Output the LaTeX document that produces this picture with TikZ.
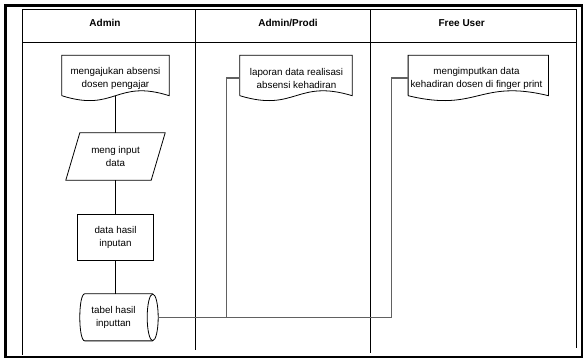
\documentclass[tikz,border=0pt]{standalone}
\usepackage{fontspec}
\setmainfont{Liberation Sans}
\usetikzlibrary{calc}

% outline of a flowchart "document" symbol around an empty box node:
% #1 = node name, #2 = half of its width
\newcommand{\docoutline}[2]{%
  \draw[shapeline] (#1.south west) -- (#1.north west) -- (#1.north east) -- (#1.south east)
    .. controls +(-#2,-17) and +(#2,17) .. (#1.south west);}

\begin{document}
\begin{tikzpicture}[x=1pt,y=-1pt,
  every node/.style={font=\fontsize{9.8}{12.5}\selectfont, align=center, inner sep=0pt},
  box/.style={rectangle, inner sep=0pt},
  shapeline/.style={draw=black, line width=0.8pt},
  flow/.style={draw=black, line width=0.8pt},
  link/.style={draw=black!62, line width=1.3pt},
  lane/.style={draw=black, line width=0.9pt},
  hdr/.style={font=\fontsize{10}{12}\selectfont\bfseries, anchor=base}]

\useasboundingbox (0,0) rectangle (587,358);

% outer frame
\draw[line width=2.5pt] (5.5,5.5) rectangle (582,356.8);

% swimlanes
\draw[lane] (22.7,355) -- (22.7,9.3) -- (576,9.3) -- (576,348);
\draw[lane] (22.7,42.3) -- (576,42.3);
\draw[lane] (195,9.3) -- (195,350);
\draw[lane] (370,9.3) -- (370,352.7);

\node[hdr] (h1) at (105,26.6) {Admin};
\node[hdr] (h2) at (288,26.6) {Admin/Prodi};
\node[hdr] (h3) at (461.7,26.6) {Free User};

% documents
\node[box, minimum width=107pt, minimum height=40pt] (d1) at (115.5,75.5) {};
\node (d1t) at (115.5,78.3) {mengajukan absensi\\dosen pengajar};
\docoutline{d1}{53.5}

\node[box, minimum width=112pt, minimum height=40pt] (d2) at (296,75.5) {};
\node (d2t) at (296.5,78.4) {laporan data realisasi\\absensi kehadiran};
\docoutline{d2}{56}

\node[box, minimum width=140pt, minimum height=40pt] (d3) at (478.3,75.5) {};
\node (d3t) at (476.5,78.3) {mengimputkan data\\kehadiran dosen di finger print};
\docoutline{d3}{70}

% input / output
\node[box, minimum width=99pt, minimum height=47pt] (p) at (115.5,156.5) {meng input\\data};
\draw[shapeline] ([xshift=14pt]p.north west) -- (p.north east)
  -- ([xshift=-14pt]p.south east) -- (p.south west) -- cycle;

% process
\node[box, shapeline, minimum width=76pt, minimum height=46.7pt] (r) at (115.5,237.3) {data hasil\\inputan};

% stored data (direct access storage)
\node[box, minimum width=67pt, minimum height=46.7pt] (c) at (113.5,317.35) {tabel hasil\\inputtan};
\draw[shapeline] ([xshift=5pt]c.north west) -- ([xshift=5.5pt]c.north east)
  ([xshift=5.5pt]c.south east) -- ([xshift=5pt]c.south west)
  .. controls +(-6.67,0) and +(-6.67,0) .. ([xshift=5pt]c.north west);
\draw[shapeline] ([xshift=5.5pt]c.east) ellipse [x radius=5.5pt, y radius=23.35pt];
\coordinate (cR) at ([xshift=11pt]c.east);

% flow in the Admin lane
\draw[flow] (d1.south) -- (p.north);
\draw[flow] (p.south) -- (r.north);
\draw[flow] (r.south) -- (r.south |- c.north);

% links from the table to the other lanes
\coordinate (k1) at (226.5,78);
\coordinate (k2) at (391.7,78);
\draw[link] (cR) -| (k1) -- (k1 -| d2.west);
\draw[link] (cR) -| (k2) -- (k2 -| d3.west);

\end{tikzpicture}
\end{document}
